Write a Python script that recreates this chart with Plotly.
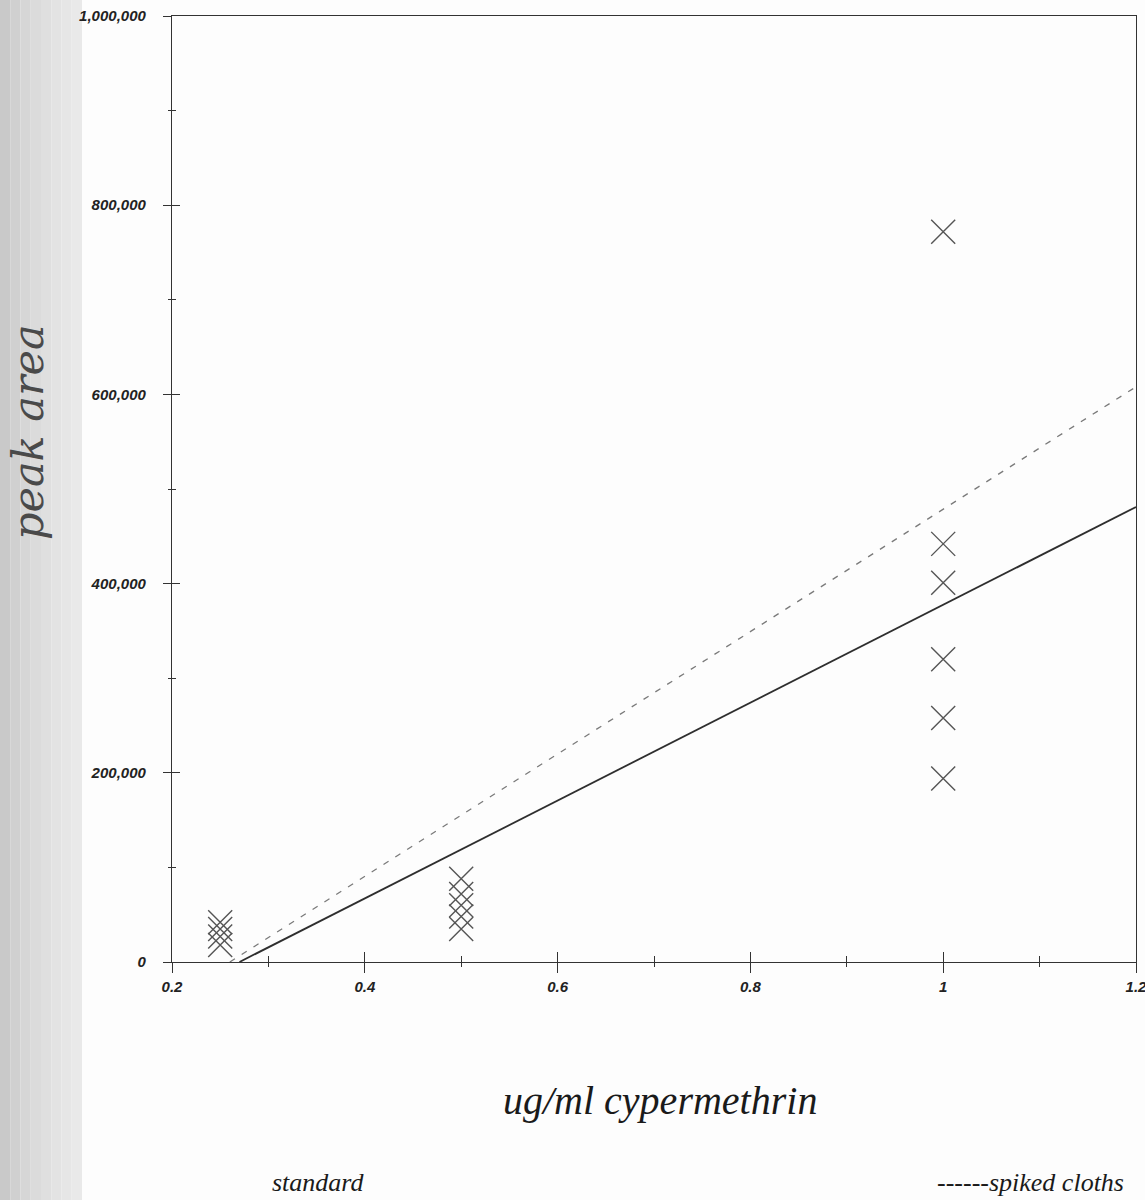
import plotly.graph_objects as go

# ---------------- data ----------------
conc_x = [0.25, 0.25, 0.25, 0.25,
          0.5, 0.5, 0.5, 0.5, 0.5,
          1.0, 1.0, 1.0, 1.0, 1.0, 1.0]
peak_y = [18000, 27000, 35000, 42000,
          35000, 48000, 60000, 72000, 88000,
          772000, 442000, 401000, 320000, 258000, 194000]

standard_line_x = [0.27, 1.2]
standard_line_y = [0, 481000]
spiked_line_x = [0.26, 1.2]
spiked_line_y = [0, 608000]

x_tick_vals = [0.2, 0.4, 0.6, 0.8, 1.0, 1.2]
x_tick_text = ["0.2", "0.4", "0.6", "0.8", "1", "1.2"]
x_minor_vals = [0.3, 0.5, 0.7, 0.9, 1.1]
y_tick_vals = [0, 200000, 400000, 600000, 800000, 1000000]
y_tick_text = ["0", "200,000", "400,000", "600,000", "800,000", "1,000,000"]
y_minor_vals = [100000, 300000, 500000, 700000, 900000]

# ---------------- layout geometry ----------------
W, H = 1145, 1200
L, R, T, B = 172, 9, 16, 238
PW, PH = W - L - R, H - T - B


def px(x):
    return (x - L) / PW


def py(y):
    return (H - B - y) / PH


fig = go.Figure()

fig.add_trace(go.Scatter(x=standard_line_x, y=standard_line_y, mode="lines",
                         line=dict(color="#2e2e2e", width=1.8),
                         name="standard", showlegend=False))
fig.add_trace(go.Scatter(x=spiked_line_x, y=spiked_line_y, mode="lines",
                         line=dict(color="#7a7a7a", width=1.3, dash="6px,8px"),
                         name="spiked cloths", showlegend=False))
fig.add_trace(go.Scatter(x=conc_x, y=peak_y, mode="markers",
                         marker=dict(symbol="x-thin-open", size=24,
                                     color="#555555",
                                     line=dict(color="#555555", width=1.4)),
                         showlegend=False))
# helper trace so the overlay axes (inside tick marks) get drawn
fig.add_trace(go.Scatter(x=[None], y=[None], xaxis="x2", yaxis="y2",
                         mode="markers", showlegend=False, hoverinfo="skip"))

tick_font = dict(family="Liberation Sans", size=15, color="#222222",
                 weight="bold", style="italic")

axis_common = dict(showgrid=False, zeroline=False, linecolor="#333333",
                   linewidth=1.3, tickcolor="#333333", tickwidth=1.3,
                   ticklabeloverflow="allow", automargin=False)

# left scanner shadow
shadow_cols = ["#c9c9c9", "#d0d0d0", "#d6d6d6", "#dbdbdb", "#dfdfdf",
               "#e3e3e3", "#e6e6e6", "#e9e9e9"]
shapes = []
step = 82 / len(shadow_cols)
for i, c in enumerate(shadow_cols):
    shapes.append(dict(type="rect", xref="paper", yref="paper",
                       x0=px(i * step), x1=px((i + 1) * step),
                       y0=py(H), y1=py(0), fillcolor=c, line=dict(width=0),
                       layer="below"))

fig.update_layout(
    width=W, height=H,
    margin=dict(l=L, r=R, t=T, b=B, autoexpand=False),
    paper_bgcolor="#fdfdfd", plot_bgcolor="rgba(0,0,0,0)",
    showlegend=False,
    shapes=shapes,
    xaxis=dict(range=[0.2, 1.2], tickmode="array", tickvals=x_tick_vals,
               ticktext=x_tick_text, ticks="outside", ticklen=10,
               ticklabelstandoff=1, tickfont=tick_font, mirror=True,
               minor=dict(tickmode="array", tickvals=x_minor_vals,
                          ticks="outside", ticklen=4, tickcolor="#333333",
                          tickwidth=1.1),
               **axis_common),
    yaxis=dict(range=[0, 1000000], tickmode="array", tickvals=y_tick_vals,
               ticktext=y_tick_text, ticks="outside", ticklen=8,
               ticklabelstandoff=14, tickfont=tick_font, mirror=True,
               minor=dict(tickmode="array", tickvals=y_minor_vals,
                          ticks="outside", ticklen=3, tickcolor="#333333",
                          tickwidth=1.1),
               **axis_common),
    xaxis2=dict(range=[0.2, 1.2], overlaying="x", side="bottom",
                tickmode="array", tickvals=x_tick_vals, ticks="inside",
                ticklen=10, showticklabels=False, showline=False,
                showgrid=False, zeroline=False, tickcolor="#333333",
                tickwidth=1.3, automargin=False,
                minor=dict(tickmode="array", tickvals=x_minor_vals,
                           ticks="inside", ticklen=6, tickcolor="#333333",
                           tickwidth=1.1)),
    yaxis2=dict(range=[0, 1000000], overlaying="y", side="left",
                tickmode="array", tickvals=y_tick_vals, ticks="inside",
                ticklen=8, showticklabels=False, showline=False,
                showgrid=False, zeroline=False, tickcolor="#333333",
                tickwidth=1.3, automargin=False,
                minor=dict(tickmode="array", tickvals=y_minor_vals,
                           ticks="inside", ticklen=4, tickcolor="#333333",
                           tickwidth=1.1)),
    annotations=[
        dict(text="ug/ml cypermethrin", xref="paper", yref="paper",
             x=px(660), y=py(1100), xanchor="center", yanchor="middle",
             showarrow=False,
             font=dict(family="Liberation Serif", size=40, color="#1a1a1a",
                       style="italic")),
        dict(text="peak area", xref="paper", yref="paper",
             x=px(28), y=py(432), xanchor="center", yanchor="middle",
             textangle=-90, showarrow=False,
             font=dict(family="DejaVu Serif", size=43, color="#4a4a4a",
                       style="italic")),
        dict(text="standard", xref="paper", yref="paper",
             x=px(318), y=py(1182), xanchor="center", yanchor="middle",
             showarrow=False,
             font=dict(family="Liberation Serif", size=26, color="#1a1a1a",
                       style="italic")),
        dict(text="------spiked cloths", xref="paper", yref="paper",
             x=px(1030), y=py(1182), xanchor="center", yanchor="middle",
             showarrow=False,
             font=dict(family="Liberation Serif", size=26, color="#1a1a1a",
                       style="italic")),
    ],
)

fig.write_html("out.html", config={"displayModeBar": False},
               post_script="document.body.style.margin='0px';")
